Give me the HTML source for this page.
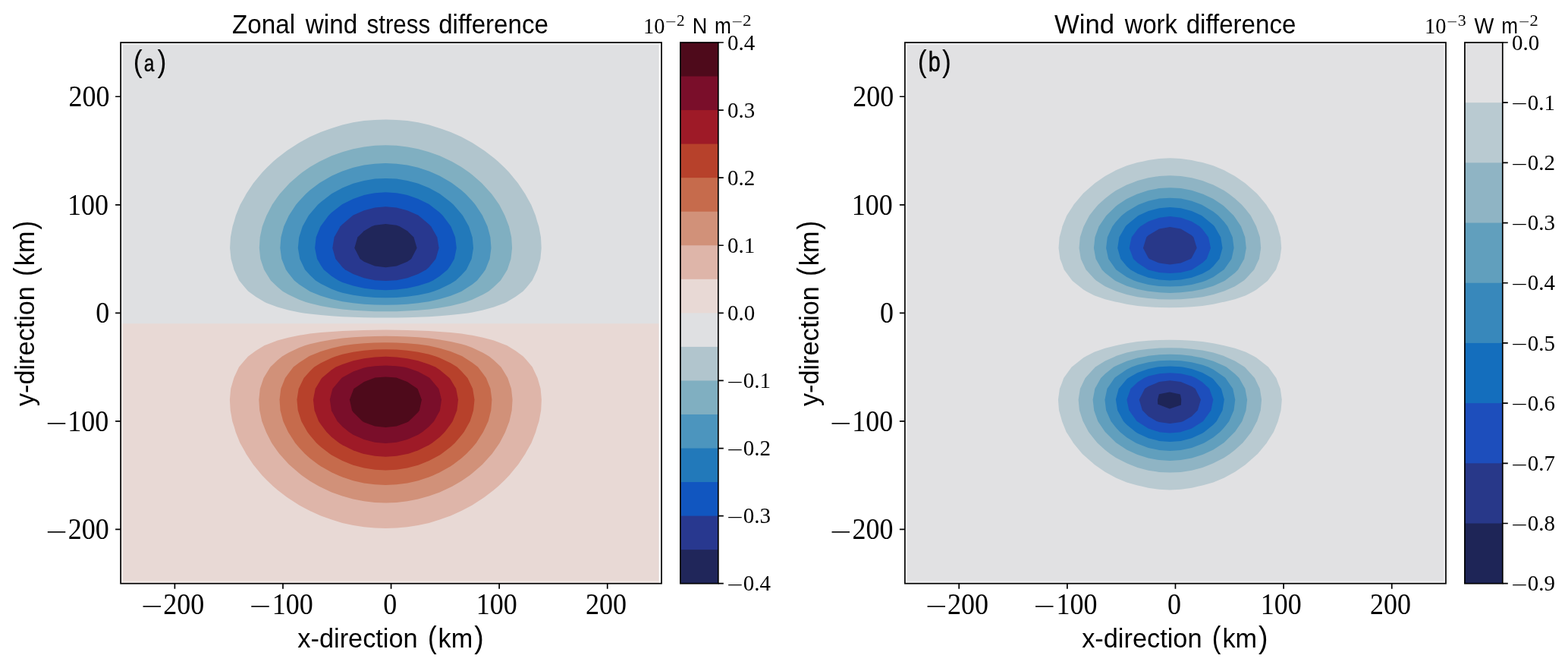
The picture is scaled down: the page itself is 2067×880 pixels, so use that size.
<!DOCTYPE html>
<html lang="en"><head><meta charset="utf-8"><title>Wind stress and wind work difference</title>
<style>html,body{margin:0;padding:0;background:#fff}svg{display:block}.s{font-family:"Liberation Sans",sans-serif}.r{font-family:"Liberation Serif",serif}text{fill:#000}</style></head><body>
<svg width="2067" height="880" viewBox="0 0 2067 880">
<rect width="2067" height="880" fill="#fff"/>
<defs><clipPath id="c1"><rect x="159.1" y="56.0" width="712.9" height="712.7"/></clipPath><clipPath id="c2"><rect x="1192.9" y="56.0" width="713.1" height="712.7"/></clipPath></defs>
<g clip-path="url(#c1)">
<rect x="159.1" y="56.0" width="712.9" height="712.7" fill="#dfe0e2"/>
<rect x="159.1" y="426.3" width="712.9" height="342.4" fill="#e8d9d5"/>
<path d="M408.6,413.5 L400.1,412.4 L394.4,411.4 L380.1,408.4 L365.8,404.5 L351.6,399.2 L349.0,398.1 L337.3,391.1 L327.3,383.8 L323.1,379.0 L315.2,369.6 L308.8,356.0 L308.5,355.3 L304.5,341.1 L303.1,326.8 L303.9,312.6 L306.6,298.3 L308.8,291.3 L310.8,284.1 L316.6,269.8 L323.1,258.3 L324.5,255.6 L334.0,241.3 L337.3,237.2 L345.8,227.0 L351.6,221.0 L360.2,212.8 L365.8,207.9 L378.2,198.5 L380.1,197.2 L394.4,187.9 L401.3,184.3 L408.6,180.3 L422.9,173.9 L434.2,170.0 L437.1,168.9 L451.4,164.5 L465.6,161.3 L479.9,159.1 L494.2,157.9 L508.4,157.5 L522.7,157.9 L536.9,159.1 L551.2,161.3 L565.5,164.5 L579.7,168.9 L582.7,170.0 L594.0,173.9 L608.2,180.3 L615.5,184.3 L622.5,187.9 L636.7,197.2 L638.6,198.5 L651.0,207.9 L656.6,212.8 L665.3,221.0 L671.1,227.0 L679.5,237.2 L682.8,241.3 L692.3,255.6 L693.8,258.3 L700.2,269.8 L706.0,284.1 L708.0,291.3 L710.3,298.3 L713.0,312.6 L713.7,326.8 L712.4,341.1 L708.3,355.3 L708.0,356.0 L701.6,369.6 L693.8,379.0 L689.5,383.8 L679.5,391.1 L667.9,398.1 L665.3,399.2 L651.0,404.5 L636.7,408.4 L622.5,411.4 L616.7,412.4 L608.2,413.5 L594.0,415.1 L579.7,416.3 L565.5,417.2 L551.2,417.8 L536.9,418.2 L522.7,418.4 L508.4,418.5 L494.2,418.4 L479.9,418.2 L465.6,417.8 L451.4,417.2 L437.1,416.3 L422.9,415.1 L408.6,413.5Z" fill="#b1c5cd"/>
<path d="M433.6,683.2 L437.1,684.5 L451.4,688.9 L465.6,692.1 L479.9,694.3 L494.2,695.5 L508.4,695.9 L522.7,695.5 L536.9,694.3 L551.2,692.1 L565.5,688.9 L579.7,684.5 L583.2,683.2 L594.0,679.5 L608.2,673.1 L615.9,668.9 L622.5,665.5 L636.7,656.3 L638.9,654.7 L651.0,645.6 L656.9,640.4 L665.3,632.5 L671.3,626.2 L679.5,616.3 L683.1,611.9 L692.5,597.7 L693.8,595.3 L700.5,583.4 L706.2,569.1 L708.0,562.6 L710.5,554.9 L713.2,540.6 L713.9,526.4 L712.6,512.1 L708.6,497.9 L708.0,496.8 L701.8,483.6 L693.8,474.0 L689.7,469.4 L679.5,461.9 L668.1,455.1 L665.3,453.9 L651.0,448.6 L636.7,444.7 L622.5,441.8 L617.1,440.9 L608.2,439.6 L594.0,438.1 L579.7,436.9 L565.5,436.0 L551.2,435.4 L536.9,434.9 L522.7,434.7 L508.4,434.6 L494.2,434.7 L479.9,434.9 L465.6,435.4 L451.4,436.0 L437.1,436.9 L422.9,438.1 L408.6,439.6 L399.7,440.9 L394.4,441.8 L380.1,444.7 L365.8,448.6 L351.6,453.9 L348.7,455.1 L337.3,461.9 L327.1,469.4 L323.1,474.0 L315.0,483.6 L308.8,496.8 L308.3,497.9 L304.2,512.1 L302.9,526.4 L303.7,540.6 L306.3,554.9 L308.8,562.6 L310.6,569.1 L316.4,583.4 L323.1,595.3 L324.3,597.7 L333.8,611.9 L337.3,616.3 L345.5,626.2 L351.6,632.5 L360.0,640.4 L365.8,645.6 L377.9,654.7 L380.1,656.3 L394.4,665.5 L400.9,668.9 L408.6,673.1 L422.9,679.5 L433.6,683.2Z" fill="#deb5a9"/>
<path d="M408.6,399.6 L403.2,398.1 L394.4,394.8 L380.1,388.1 L372.6,383.8 L365.8,378.1 L356.9,369.6 L351.6,361.0 L348.1,355.3 L343.3,341.1 L341.8,326.8 L342.7,312.6 L345.8,298.3 L351.3,284.1 L351.6,283.6 L358.7,269.8 L365.8,259.6 L368.8,255.6 L380.1,242.9 L381.7,241.3 L394.4,230.2 L398.5,227.0 L408.6,219.9 L421.3,212.8 L422.9,211.9 L437.1,205.2 L451.4,200.2 L457.5,198.5 L465.6,196.2 L479.9,193.4 L494.2,191.8 L508.4,191.2 L522.7,191.8 L536.9,193.4 L551.2,196.2 L559.3,198.5 L565.5,200.2 L579.7,205.2 L594.0,211.9 L595.6,212.8 L608.2,219.9 L618.3,227.0 L622.5,230.2 L635.1,241.3 L636.7,242.9 L648.1,255.6 L651.0,259.6 L658.2,269.8 L665.3,283.6 L665.5,284.1 L671.0,298.3 L674.2,312.6 L675.1,326.8 L673.5,341.1 L668.8,355.3 L665.3,361.0 L659.9,369.6 L651.0,378.1 L644.2,383.8 L636.7,388.1 L622.5,394.8 L613.7,398.1 L608.2,399.6 L594.0,403.0 L579.7,405.5 L565.5,407.4 L551.2,408.7 L536.9,409.6 L522.7,410.2 L508.4,410.3 L494.2,410.2 L479.9,409.6 L465.6,408.7 L451.4,407.4 L437.1,405.5 L422.9,403.0 L408.6,399.6Z" fill="#80afc1"/>
<path d="M455.9,654.7 L465.6,657.5 L479.9,660.3 L494.2,661.9 L508.4,662.4 L522.7,661.9 L536.9,660.3 L551.2,657.5 L560.9,654.7 L565.5,653.5 L579.7,648.5 L594.0,641.8 L596.5,640.4 L608.2,633.8 L619.1,626.2 L622.5,623.6 L635.8,611.9 L636.7,610.9 L648.7,597.7 L651.0,594.4 L658.7,583.4 L665.3,570.7 L666.1,569.1 L671.5,554.9 L674.7,540.6 L675.6,526.4 L674.0,512.1 L669.3,497.9 L665.3,491.3 L660.5,483.6 L651.0,474.6 L644.8,469.4 L636.7,464.7 L622.5,458.1 L614.5,455.1 L608.2,453.3 L594.0,450.0 L579.7,447.5 L565.5,445.6 L551.2,444.3 L536.9,443.4 L522.7,442.9 L508.4,442.7 L494.2,442.9 L479.9,443.4 L465.6,444.3 L451.4,445.6 L437.1,447.5 L422.9,450.0 L408.6,453.3 L402.4,455.1 L394.4,458.1 L380.1,464.7 L372.0,469.4 L365.8,474.6 L356.4,483.6 L351.6,491.3 L347.5,497.9 L342.8,512.1 L341.3,526.4 L342.2,540.6 L345.3,554.9 L350.8,569.1 L351.6,570.7 L358.1,583.4 L365.8,594.4 L368.2,597.7 L380.1,610.9 L381.1,611.9 L394.4,623.6 L397.8,626.2 L408.6,633.8 L420.3,640.4 L422.9,641.8 L437.1,648.5 L451.4,653.5 L455.9,654.7Z" fill="#d19179"/>
<path d="M465.6,399.3 L456.9,398.1 L451.4,397.2 L437.1,394.0 L422.9,389.7 L408.6,384.0 L408.3,383.8 L394.4,374.7 L387.9,369.6 L380.1,359.7 L376.9,355.3 L371.2,341.1 L369.3,326.8 L370.4,312.6 L374.2,298.3 L380.1,285.5 L380.8,284.1 L390.1,269.8 L394.4,264.8 L403.1,255.6 L408.6,250.6 L420.9,241.3 L422.9,240.0 L437.1,231.7 L447.8,227.0 L451.4,225.5 L465.6,220.7 L479.9,217.5 L494.2,215.7 L508.4,215.1 L522.7,215.7 L536.9,217.5 L551.2,220.7 L565.5,225.5 L569.0,227.0 L579.7,231.7 L594.0,240.0 L595.9,241.3 L608.2,250.6 L613.8,255.6 L622.5,264.8 L626.7,269.8 L636.1,284.1 L636.7,285.5 L642.6,298.3 L646.4,312.6 L647.5,326.8 L645.6,341.1 L639.9,355.3 L636.7,359.7 L629.0,369.6 L622.5,374.7 L608.5,383.8 L608.2,384.0 L594.0,389.7 L579.7,394.0 L565.5,397.2 L559.9,398.1 L551.2,399.3 L536.9,400.7 L522.7,401.4 L508.4,401.7 L494.2,401.4 L479.9,400.7 L465.6,399.3Z" fill="#4c95be"/>
<path d="M445.9,626.2 L451.4,628.6 L465.6,633.3 L479.9,636.4 L494.2,638.3 L508.4,638.9 L522.7,638.3 L536.9,636.4 L551.2,633.3 L565.5,628.6 L571.0,626.2 L579.7,622.3 L594.0,614.2 L597.3,611.9 L608.2,603.7 L614.9,597.7 L622.5,589.7 L627.8,583.4 L636.7,569.6 L637.0,569.1 L643.6,554.9 L647.3,540.6 L648.4,526.4 L646.5,512.1 L640.9,497.9 L636.7,492.2 L630.0,483.6 L622.5,477.7 L609.7,469.4 L608.2,468.7 L594.0,463.0 L579.7,458.8 L565.5,455.6 L562.4,455.1 L551.2,453.6 L536.9,452.2 L522.7,451.4 L508.4,451.2 L494.2,451.4 L479.9,452.2 L465.6,453.6 L454.5,455.1 L451.4,455.6 L437.1,458.8 L422.9,463.0 L408.6,468.7 L407.1,469.4 L394.4,477.7 L386.8,483.6 L380.1,492.2 L375.9,497.9 L370.3,512.1 L368.5,526.4 L369.5,540.6 L373.3,554.9 L379.8,569.1 L380.1,569.6 L389.1,583.4 L394.4,589.7 L401.9,597.7 L408.6,603.7 L419.5,611.9 L422.9,614.2 L437.1,622.3 L445.9,626.2Z" fill="#c66b4c"/>
<path d="M451.4,385.7 L445.0,383.8 L437.1,380.8 L422.9,373.8 L416.0,369.6 L408.6,362.5 L402.0,355.3 L395.2,341.1 L394.4,336.1 L392.8,326.8 L394.2,312.6 L394.4,312.0 L398.8,298.3 L406.8,284.1 L408.6,281.7 L418.9,269.8 L422.9,266.2 L436.8,255.6 L437.1,255.3 L451.4,247.5 L465.6,241.8 L467.5,241.3 L479.9,237.9 L494.2,235.6 L508.4,234.9 L522.7,235.6 L536.9,237.9 L549.4,241.3 L551.2,241.8 L565.5,247.5 L579.7,255.3 L580.0,255.6 L594.0,266.2 L597.9,269.8 L608.2,281.7 L610.0,284.1 L618.1,298.3 L622.5,312.0 L622.7,312.6 L624.0,326.8 L622.5,336.1 L621.7,341.1 L614.8,355.3 L608.2,362.5 L600.8,369.6 L594.0,373.8 L579.7,380.8 L571.9,383.8 L565.5,385.7 L551.2,388.7 L536.9,390.8 L522.7,392.0 L508.4,392.3 L494.2,392.0 L479.9,390.8 L465.6,388.7 L451.4,385.7Z" fill="#2279ba"/>
<path d="M463.6,611.9 L465.6,612.7 L479.9,616.6 L494.2,618.8 L508.4,619.5 L522.7,618.8 L536.9,616.6 L551.2,612.7 L553.2,611.9 L565.5,607.1 L579.7,599.4 L582.2,597.7 L594.0,588.7 L599.7,583.4 L608.2,573.6 L611.7,569.1 L619.6,554.9 L622.5,545.9 L624.1,540.6 L625.5,526.4 L623.1,512.1 L622.5,510.7 L616.4,497.9 L608.2,489.0 L602.6,483.6 L594.0,478.3 L579.7,471.4 L574.4,469.4 L565.5,466.8 L551.2,463.8 L536.9,461.8 L522.7,460.6 L508.4,460.2 L494.2,460.6 L479.9,461.8 L465.6,463.8 L451.4,466.8 L442.4,469.4 L437.1,471.4 L422.9,478.3 L414.2,483.6 L408.6,489.0 L400.5,497.9 L394.4,510.7 L393.7,512.1 L391.4,526.4 L392.7,540.6 L394.4,545.9 L397.3,554.9 L405.2,569.1 L408.6,573.6 L417.1,583.4 L422.9,588.7 L434.6,597.7 L437.1,599.4 L451.4,607.1 L463.6,611.9Z" fill="#b7412b"/>
<path d="M451.4,371.9 L446.1,369.6 L437.1,363.8 L426.8,355.3 L422.9,349.4 L418.0,341.1 L415.1,326.8 L416.7,312.6 L422.5,298.3 L422.9,297.7 L433.1,284.1 L437.1,280.1 L450.3,269.8 L451.4,269.1 L465.6,261.9 L479.9,257.0 L487.2,255.6 L494.2,254.2 L508.4,253.3 L522.7,254.2 L529.6,255.6 L536.9,257.0 L551.2,261.9 L565.5,269.1 L566.5,269.8 L579.7,280.1 L583.7,284.1 L594.0,297.7 L594.4,298.3 L600.1,312.6 L601.8,326.8 L598.9,341.1 L594.0,349.4 L590.0,355.3 L579.7,363.8 L570.8,369.6 L565.5,371.9 L551.2,376.6 L536.9,379.7 L522.7,381.6 L508.4,382.2 L494.2,381.6 L479.9,379.7 L465.6,376.6 L451.4,371.9Z" fill="#1156c0"/>
<path d="M478.5,597.7 L479.9,598.1 L494.2,600.8 L508.4,601.7 L522.7,600.8 L536.9,598.1 L538.4,597.7 L551.2,593.3 L565.5,586.2 L569.8,583.4 L579.7,575.7 L586.4,569.1 L594.0,559.1 L596.7,554.9 L602.4,540.6 L604.0,526.4 L601.2,512.1 L594.0,499.9 L592.6,497.9 L579.7,487.3 L574.0,483.6 L565.5,479.9 L551.2,475.3 L536.9,472.2 L522.7,470.4 L508.4,469.8 L494.2,470.4 L479.9,472.2 L465.6,475.3 L451.4,479.9 L442.8,483.6 L437.1,487.3 L424.2,497.9 L422.9,499.9 L415.7,512.1 L412.9,526.4 L414.5,540.6 L420.1,554.9 L422.9,559.1 L430.4,569.1 L437.1,575.7 L447.0,583.4 L451.4,586.2 L465.6,593.3 L478.5,597.7Z" fill="#9e1a27"/>
<path d="M508.4,370.0 L499.8,369.6 L494.2,369.2 L479.9,366.2 L465.6,361.0 L455.0,355.3 L451.4,352.0 L442.3,341.1 L438.3,326.8 L440.6,312.6 L448.6,298.3 L451.4,295.4 L464.9,284.1 L465.6,283.6 L479.9,277.2 L494.2,273.5 L508.4,272.2 L522.7,273.5 L536.9,277.2 L551.2,283.6 L551.9,284.1 L565.5,295.4 L568.2,298.3 L576.3,312.6 L578.6,326.8 L574.5,341.1 L565.5,352.0 L561.8,355.3 L551.2,361.0 L536.9,366.2 L522.7,369.2 L517.0,369.6 L508.4,370.0Z" fill="#28388f"/>
<path d="M502.3,583.4 L508.4,583.9 L514.5,583.4 L522.7,582.7 L536.9,579.1 L551.2,572.8 L557.0,569.1 L565.5,562.1 L572.1,554.9 L579.7,541.2 L580.0,540.6 L582.0,526.4 L579.7,517.1 L578.3,512.1 L566.5,497.9 L565.5,497.2 L551.2,489.6 L536.9,484.6 L532.5,483.6 L522.7,482.2 L508.4,481.5 L494.2,482.2 L484.4,483.6 L479.9,484.6 L465.6,489.6 L451.4,497.2 L450.3,497.9 L438.5,512.1 L437.1,517.1 L434.8,526.4 L436.9,540.6 L437.1,541.2 L444.7,554.9 L451.4,562.1 L459.9,569.1 L465.6,572.8 L479.9,579.1 L494.2,582.7 L502.3,583.4Z" fill="#7a0e2a"/>
<path d="M479.9,344.7 L474.6,341.1 L467.3,326.8 L471.4,312.6 L479.9,304.2 L490.0,298.3 L494.2,296.8 L508.4,295.0 L522.7,296.8 L526.8,298.3 L536.9,304.2 L545.4,312.6 L549.6,326.8 L542.2,341.1 L536.9,344.7 L522.7,350.4 L508.4,352.3 L494.2,350.4 L479.9,344.7Z" fill="#20265a"/>
<path d="M477.8,554.9 L479.9,556.2 L494.2,561.4 L508.4,563.1 L522.7,561.4 L536.9,556.2 L539.0,554.9 L551.2,542.9 L552.9,540.6 L555.9,526.4 L551.2,513.9 L550.3,512.1 L536.9,503.1 L523.8,497.9 L522.7,497.6 L508.4,496.5 L494.2,497.6 L493.1,497.9 L479.9,503.1 L466.5,512.1 L465.6,513.9 L460.9,526.4 L464.0,540.6 L465.6,542.9 L477.8,554.9Z" fill="#4e0a1b"/>
</g>
<g clip-path="url(#c2)">
<rect x="1192.9" y="56.0" width="713.1" height="712.7" fill="#e1e1e3"/>
<path d="M1513.8,642.7 L1504.4,640.4 L1499.6,639.5 L1485.3,635.5 L1471.0,629.4 L1465.1,626.2 L1456.8,621.8 L1442.7,611.9 L1442.5,611.7 L1428.2,599.3 L1426.6,597.7 L1414.8,583.4 L1414.0,582.1 L1405.6,569.1 L1400.0,554.9 L1399.7,553.7 L1396.0,540.6 L1394.9,526.4 L1396.9,512.1 L1399.7,505.1 L1402.2,497.9 L1412.7,483.6 L1414.0,482.5 L1428.2,471.3 L1431.3,469.4 L1442.5,463.7 L1456.8,458.7 L1471.0,455.3 L1472.0,455.1 L1485.3,452.2 L1499.6,450.0 L1513.8,448.7 L1528.1,447.9 L1542.3,447.7 L1556.6,447.9 L1570.9,448.7 L1585.1,450.0 L1599.4,452.2 L1612.7,455.1 L1613.7,455.3 L1627.9,458.7 L1642.2,463.7 L1653.4,469.4 L1656.4,471.3 L1670.7,482.5 L1672.0,483.6 L1682.4,497.9 L1685.0,505.1 L1687.8,512.1 L1689.8,526.4 L1688.6,540.6 L1685.0,553.7 L1684.7,554.9 L1679.0,569.1 L1670.7,582.1 L1669.9,583.4 L1658.1,597.7 L1656.4,599.3 L1642.2,611.7 L1642.0,611.9 L1627.9,621.8 L1619.6,626.2 L1613.7,629.4 L1599.4,635.5 L1585.1,639.5 L1580.3,640.4 L1570.9,642.7 L1556.6,644.7 L1542.3,645.4 L1528.1,644.7 L1513.8,642.7Z M1485.3,400.8 L1473.0,398.1 L1471.0,397.7 L1456.8,394.3 L1442.5,389.2 L1431.9,383.8 L1428.2,381.5 L1414.0,370.2 L1413.3,369.6 L1402.7,355.3 L1399.7,346.7 L1397.4,341.1 L1395.5,326.8 L1396.6,312.6 L1399.7,301.4 L1400.4,298.3 L1406.2,284.1 L1414.0,271.9 L1415.3,269.8 L1427.3,255.6 L1428.2,254.6 L1442.5,242.0 L1443.4,241.3 L1456.8,231.9 L1466.1,227.0 L1471.0,224.3 L1485.3,218.2 L1499.6,214.1 L1506.4,212.8 L1513.8,211.0 L1528.1,208.9 L1542.3,208.3 L1556.6,208.9 L1570.9,211.0 L1578.3,212.8 L1585.1,214.1 L1599.4,218.2 L1613.7,224.3 L1618.6,227.0 L1627.9,231.9 L1641.3,241.3 L1642.2,242.0 L1656.4,254.6 L1657.4,255.6 L1669.4,269.8 L1670.7,271.9 L1678.5,284.1 L1684.2,298.3 L1685.0,301.4 L1688.1,312.6 L1689.2,326.8 L1687.2,341.1 L1685.0,346.7 L1682.0,355.3 L1671.4,369.6 L1670.7,370.2 L1656.4,381.5 L1652.7,383.8 L1642.2,389.2 L1627.9,394.3 L1613.7,397.7 L1611.6,398.1 L1599.4,400.8 L1585.1,403.0 L1570.9,404.3 L1556.6,405.1 L1542.3,405.3 L1528.1,405.1 L1513.8,404.3 L1499.6,403.0 L1485.3,400.8Z" fill="#b9cad1"/>
<path d="M1499.6,616.0 L1489.5,611.9 L1485.3,610.3 L1471.0,603.0 L1463.2,597.7 L1456.8,592.8 L1446.6,583.4 L1442.5,578.6 L1435.0,569.1 L1428.2,556.0 L1427.6,554.9 L1422.9,540.6 L1421.6,526.4 L1423.9,512.1 L1428.2,503.1 L1430.6,497.9 L1442.5,485.0 L1443.9,483.6 L1456.8,475.4 L1470.4,469.4 L1471.0,469.1 L1485.3,464.6 L1499.6,461.6 L1513.8,459.7 L1528.1,458.6 L1542.3,458.3 L1556.6,458.6 L1570.9,459.7 L1585.1,461.6 L1599.4,464.6 L1613.7,469.1 L1614.3,469.4 L1627.9,475.4 L1640.8,483.6 L1642.2,485.0 L1654.0,497.9 L1656.4,503.1 L1660.8,512.1 L1663.1,526.4 L1661.8,540.6 L1657.1,554.9 L1656.4,556.0 L1649.6,569.1 L1642.2,578.6 L1638.1,583.4 L1627.9,592.8 L1621.5,597.7 L1613.7,603.0 L1599.4,610.3 L1595.2,611.9 L1585.1,616.0 L1570.9,619.8 L1556.6,621.9 L1542.3,622.6 L1528.1,621.9 L1513.8,619.8 L1499.6,616.0Z M1485.3,388.1 L1471.8,383.8 L1471.0,383.6 L1456.8,377.2 L1444.9,369.6 L1442.5,367.3 L1431.5,355.3 L1428.2,348.2 L1424.8,341.1 L1422.5,326.8 L1423.8,312.6 L1428.2,299.3 L1428.6,298.3 L1436.0,284.1 L1442.5,275.8 L1447.6,269.8 L1456.8,261.4 L1464.5,255.6 L1471.0,251.1 L1485.3,243.6 L1491.5,241.3 L1499.6,238.1 L1513.8,234.2 L1528.1,232.0 L1542.3,231.3 L1556.6,232.0 L1570.9,234.2 L1585.1,238.1 L1593.2,241.3 L1599.4,243.6 L1613.7,251.1 L1620.2,255.6 L1627.9,261.4 L1637.0,269.8 L1642.2,275.8 L1648.7,284.1 L1656.1,298.3 L1656.4,299.3 L1660.9,312.6 L1662.2,326.8 L1659.9,341.1 L1656.4,348.2 L1653.2,355.3 L1642.2,367.3 L1639.8,369.6 L1627.9,377.2 L1613.7,383.6 L1612.8,383.8 L1599.4,388.1 L1585.1,391.2 L1570.9,393.1 L1556.6,394.2 L1542.3,394.6 L1528.1,394.2 L1513.8,393.1 L1499.6,391.2 L1485.3,388.1Z" fill="#8fb4c4"/>
<path d="M1499.6,598.9 L1496.7,597.7 L1485.3,592.4 L1471.7,583.4 L1471.0,582.9 L1456.9,569.1 L1456.8,568.9 L1447.3,554.9 L1442.5,541.5 L1442.2,540.6 L1440.6,526.4 L1442.5,516.6 L1443.3,512.1 L1451.2,497.9 L1456.8,492.5 L1468.0,483.6 L1471.0,482.0 L1485.3,475.7 L1499.6,471.5 L1510.8,469.4 L1513.8,468.8 L1528.1,467.2 L1542.3,466.7 L1556.6,467.2 L1570.9,468.8 L1573.9,469.4 L1585.1,471.5 L1599.4,475.7 L1613.7,482.0 L1616.7,483.6 L1627.9,492.5 L1633.5,497.9 L1641.4,512.1 L1642.2,516.6 L1644.1,526.4 L1642.5,540.6 L1642.2,541.5 L1637.4,554.9 L1627.9,568.9 L1627.8,569.1 L1613.7,582.9 L1613.0,583.4 L1599.4,592.4 L1588.0,597.7 L1585.1,598.9 L1570.9,603.6 L1556.6,606.1 L1542.3,606.9 L1528.1,606.1 L1513.8,603.6 L1499.6,598.9Z M1528.1,385.3 L1514.7,383.8 L1513.8,383.7 L1499.6,381.0 L1485.3,376.7 L1471.0,370.3 L1469.7,369.6 L1456.8,359.4 L1452.6,355.3 L1444.5,341.1 L1442.5,329.9 L1441.9,326.8 L1442.5,321.5 L1443.4,312.6 L1448.6,298.3 L1456.8,286.2 L1458.4,284.1 L1471.0,271.8 L1473.5,269.8 L1485.3,262.0 L1499.3,255.6 L1499.6,255.5 L1513.8,250.7 L1528.1,248.1 L1542.3,247.3 L1556.6,248.1 L1570.9,250.7 L1585.1,255.5 L1585.4,255.6 L1599.4,262.0 L1611.1,269.8 L1613.7,271.8 L1626.3,284.1 L1627.9,286.2 L1636.0,298.3 L1641.3,312.6 L1642.2,321.5 L1642.8,326.8 L1642.2,329.9 L1640.2,341.1 L1632.1,355.3 L1627.9,359.4 L1615.0,369.6 L1613.7,370.3 L1599.4,376.7 L1585.1,381.0 L1570.9,383.7 L1570.0,383.8 L1556.6,385.3 L1542.3,385.9 L1528.1,385.3Z" fill="#619fbd"/>
<path d="M1499.6,584.6 L1497.3,583.4 L1485.3,576.3 L1476.4,569.1 L1471.0,563.3 L1464.5,554.9 L1458.1,540.6 L1456.8,529.4 L1456.4,526.4 L1456.8,524.7 L1459.5,512.1 L1469.2,497.9 L1471.0,496.4 L1485.3,486.8 L1491.8,483.6 L1499.6,480.8 L1513.8,477.3 L1528.1,475.3 L1542.3,474.7 L1556.6,475.3 L1570.9,477.3 L1585.1,480.8 L1592.9,483.6 L1599.4,486.8 L1613.7,496.4 L1615.5,497.9 L1625.2,512.1 L1627.9,524.7 L1628.3,526.4 L1627.9,529.4 L1626.5,540.6 L1620.2,554.9 L1613.7,563.3 L1608.3,569.1 L1599.4,576.3 L1587.4,583.4 L1585.1,584.6 L1570.9,590.0 L1556.6,592.9 L1542.3,593.9 L1528.1,592.9 L1513.8,590.0 L1499.6,584.6Z M1499.6,371.3 L1494.7,369.6 L1485.3,365.0 L1471.2,355.3 L1471.0,355.1 L1461.2,341.1 L1458.1,326.8 L1459.8,312.6 L1466.4,298.3 L1471.0,292.3 L1478.6,284.1 L1485.3,278.7 L1499.6,270.2 L1500.5,269.8 L1513.8,264.7 L1528.1,261.6 L1542.3,260.7 L1556.6,261.6 L1570.9,264.7 L1584.2,269.8 L1585.1,270.2 L1599.4,278.7 L1606.0,284.1 L1613.7,292.3 L1618.3,298.3 L1624.8,312.6 L1626.6,326.8 L1623.5,341.1 L1613.7,355.1 L1613.4,355.3 L1599.4,365.0 L1590.0,369.6 L1585.1,371.3 L1570.9,375.0 L1556.6,377.0 L1542.3,377.6 L1528.1,377.0 L1513.8,375.0 L1499.6,371.3Z" fill="#3888bb"/>
<path d="M1499.6,570.8 L1497.0,569.1 L1485.3,559.5 L1481.0,554.9 L1473.1,540.6 L1471.0,527.3 L1470.9,526.4 L1471.0,525.8 L1474.7,512.1 L1485.3,499.6 L1487.1,497.9 L1499.6,491.1 L1513.8,486.0 L1525.8,483.6 L1528.1,483.3 L1542.3,482.5 L1556.6,483.3 L1558.9,483.6 L1570.9,486.0 L1585.1,491.1 L1597.6,497.9 L1599.4,499.6 L1609.9,512.1 L1613.7,525.8 L1613.8,526.4 L1613.7,527.3 L1611.6,540.6 L1603.7,554.9 L1599.4,559.5 L1587.7,569.1 L1585.1,570.8 L1570.9,577.3 L1556.6,580.9 L1542.3,582.1 L1528.1,580.9 L1513.8,577.3 L1499.6,570.8Z M1499.6,360.4 L1490.2,355.3 L1485.3,350.7 L1477.2,341.1 L1473.2,326.8 L1475.4,312.6 L1483.7,298.3 L1485.3,296.6 L1499.6,284.7 L1500.6,284.1 L1513.8,277.9 L1528.1,274.2 L1542.3,273.0 L1556.6,274.2 L1570.9,277.9 L1584.1,284.1 L1585.1,284.7 L1599.4,296.6 L1601.0,298.3 L1609.2,312.6 L1611.5,326.8 L1607.5,341.1 L1599.4,350.7 L1594.5,355.3 L1585.1,360.4 L1570.9,365.7 L1556.6,368.6 L1542.3,369.5 L1528.1,368.6 L1513.8,365.7 L1499.6,360.4Z" fill="#146ebd"/>
<path d="M1528.1,569.2 L1527.9,569.1 L1513.8,564.4 L1499.6,555.6 L1498.7,554.9 L1488.3,540.6 L1485.4,526.4 L1490.5,512.1 L1499.6,503.6 L1508.2,497.9 L1513.8,495.6 L1528.1,492.3 L1542.3,491.2 L1556.6,492.3 L1570.9,495.6 L1576.4,497.9 L1585.1,503.6 L1594.2,512.1 L1599.3,526.4 L1596.4,540.6 L1586.0,554.9 L1585.1,555.6 L1570.9,564.4 L1556.8,569.1 L1556.6,569.2 L1542.3,570.6 L1528.1,569.2Z M1513.8,355.5 L1513.3,355.3 L1499.6,346.3 L1494.0,341.1 L1488.7,326.8 L1491.7,312.6 L1499.6,302.0 L1503.3,298.3 L1513.8,291.8 L1528.1,286.8 L1542.3,285.1 L1556.6,286.8 L1570.9,291.8 L1581.4,298.3 L1585.1,302.0 L1593.0,312.6 L1596.0,326.8 L1590.7,341.1 L1585.1,346.3 L1571.4,355.3 L1570.9,355.5 L1556.6,359.0 L1542.3,360.1 L1528.1,359.0 L1513.8,355.5Z" fill="#1d4ebc"/>
<path d="M1528.1,556.1 L1524.9,554.9 L1513.8,548.5 L1505.9,540.6 L1501.7,526.4 L1509.1,512.1 L1513.8,508.9 L1528.1,503.1 L1542.3,501.2 L1556.6,503.1 L1570.9,508.9 L1575.6,512.1 L1583.0,526.4 L1578.8,540.6 L1570.9,548.5 L1559.7,554.9 L1556.6,556.1 L1542.3,557.9 L1528.1,556.1Z M1528.1,346.6 L1515.0,341.1 L1513.8,339.7 L1506.9,326.8 L1511.3,312.6 L1513.8,310.1 L1528.1,301.6 L1542.3,298.9 L1556.6,301.6 L1570.9,310.1 L1573.4,312.6 L1577.7,326.8 L1570.9,339.7 L1569.7,341.1 L1556.6,346.6 L1542.3,348.5 L1528.1,346.6Z" fill="#283889"/>
<path d="M1527.9,519.2 L1541.9,516.4 L1555.9,519.5 L1557.2,526.4 L1556.9,533.5 L1541.9,538.6 L1526.2,532.5 L1526.0,526.4Z" fill="#1e2557"/>
</g>
<rect x="161.1" y="58.0" width="708.9" height="708.7" fill="none" stroke="#fff" stroke-opacity="0.42" stroke-width="2.4"/>
<rect x="868.7" y="56.0" width="3.3" height="712.7" fill="#fff"/>
<rect x="1194.9" y="58.0" width="709.1" height="708.7" fill="none" stroke="#fff" stroke-opacity="0.42" stroke-width="2.4"/>
<rect x="1192.9" y="56.0" width="2.3" height="712.7" fill="#fff"/>
<rect x="896.9" y="56.00" width="49.9" height="712.70" fill="#4e0a1b"/>
<rect x="896.9" y="100.54" width="49.9" height="668.16" fill="#7a0e2a"/>
<rect x="896.9" y="145.09" width="49.9" height="623.61" fill="#9e1a27"/>
<rect x="896.9" y="189.63" width="49.9" height="579.07" fill="#b7412b"/>
<rect x="896.9" y="234.17" width="49.9" height="534.53" fill="#c66b4c"/>
<rect x="896.9" y="278.72" width="49.9" height="489.98" fill="#d19179"/>
<rect x="896.9" y="323.26" width="49.9" height="445.44" fill="#deb5a9"/>
<rect x="896.9" y="367.81" width="49.9" height="400.89" fill="#e8d9d5"/>
<rect x="896.9" y="412.35" width="49.9" height="356.35" fill="#dfe0e2"/>
<rect x="896.9" y="456.89" width="49.9" height="311.81" fill="#b1c5cd"/>
<rect x="896.9" y="501.44" width="49.9" height="267.26" fill="#80afc1"/>
<rect x="896.9" y="545.98" width="49.9" height="222.72" fill="#4c95be"/>
<rect x="896.9" y="590.53" width="49.9" height="178.17" fill="#2279ba"/>
<rect x="896.9" y="635.07" width="49.9" height="133.63" fill="#1156c0"/>
<rect x="896.9" y="679.61" width="49.9" height="89.09" fill="#28388f"/>
<rect x="896.9" y="724.16" width="49.9" height="44.54" fill="#20265a"/>
<rect x="896.9" y="56.0" width="49.9" height="712.7" fill="none" stroke="#000" stroke-width="1.7"/>
<rect x="1930.9" y="56.00" width="49.9" height="712.70" fill="#e1e1e3"/>
<rect x="1930.9" y="135.19" width="49.9" height="633.51" fill="#b9cad1"/>
<rect x="1930.9" y="214.38" width="49.9" height="554.32" fill="#8fb4c4"/>
<rect x="1930.9" y="293.57" width="49.9" height="475.13" fill="#619fbd"/>
<rect x="1930.9" y="372.76" width="49.9" height="395.94" fill="#3888bb"/>
<rect x="1930.9" y="451.94" width="49.9" height="316.76" fill="#146ebd"/>
<rect x="1930.9" y="531.13" width="49.9" height="237.57" fill="#1d4ebc"/>
<rect x="1930.9" y="610.32" width="49.9" height="158.38" fill="#283889"/>
<rect x="1930.9" y="689.51" width="49.9" height="79.19" fill="#1e2557"/>
<rect x="1930.9" y="56.0" width="49.9" height="712.7" fill="none" stroke="#000" stroke-width="1.7"/>
<rect x="159.1" y="56.0" width="712.9" height="712.7" fill="none" stroke="#000" stroke-width="1.7"/>
<path d="M230.39,768.70v7.0M159.10,697.43h-7.0M372.97,768.70v7.0M159.10,554.89h-7.0M515.55,768.70v7.0M159.10,412.35h-7.0M658.13,768.70v7.0M159.10,269.81h-7.0M800.71,768.70v7.0M159.10,127.27h-7.0" stroke="#000" stroke-width="1.7" fill="none"/>
<rect x="1192.9" y="56.0" width="713.1" height="712.7" fill="none" stroke="#000" stroke-width="1.7"/>
<path d="M1264.22,768.70v7.0M1192.90,697.43h-7.0M1406.85,768.70v7.0M1192.90,554.89h-7.0M1549.47,768.70v7.0M1192.90,412.35h-7.0M1692.11,768.70v7.0M1192.90,269.81h-7.0M1834.74,768.70v7.0M1192.90,127.27h-7.0" stroke="#000" stroke-width="1.7" fill="none"/>
<path d="M946.80,768.70h7.0M946.80,679.61h7.0M946.80,590.53h7.0M946.80,501.44h7.0M946.80,412.35h7.0M946.80,323.26h7.0M946.80,234.17h7.0M946.80,145.09h7.0M946.80,56.00h7.0" stroke="#000" stroke-width="1.7" fill="none"/>
<path d="M1980.80,768.70h7.0M1980.80,689.51h7.0M1980.80,610.32h7.0M1980.80,531.13h7.0M1980.80,451.94h7.0M1980.80,372.76h7.0M1980.80,293.57h7.0M1980.80,214.38h7.0M1980.80,135.19h7.0M1980.80,56.00h7.0" stroke="#000" stroke-width="1.7" fill="none"/>
<g><text class="r" font-size="39.40" transform="translate(60.57,711.58) scale(1.2827,0.8500)">−</text><text class="r" font-size="39.40" transform="translate(89.63,710.33) scale(0.9140,1.0000)">200</text></g>
<g><text class="r" font-size="39.40" transform="translate(60.57,569.04) scale(1.2827,0.8500)">−</text><text class="r" font-size="39.40" transform="translate(89.33,567.79) scale(0.9140,1.0000)">100</text></g>
<g><text class="r" font-size="39.40" transform="translate(126.24,425.25) scale(0.9140,1.0000)">0</text></g>
<g><text class="r" font-size="39.40" transform="translate(88.93,282.71) scale(0.9140,1.0000)">100</text></g>
<g><text class="r" font-size="39.40" transform="translate(90.53,140.17) scale(0.9140,1.0000)">200</text></g>
<g><text class="r" font-size="39.40" transform="translate(186.36,809.75) scale(1.2827,0.8500)">−</text><text class="r" font-size="39.40" transform="translate(215.17,808.50) scale(0.9140,1.0000)">200</text></g>
<g><text class="r" font-size="39.40" transform="translate(328.94,809.75) scale(1.2827,0.8500)">−</text><text class="r" font-size="39.40" transform="translate(358.72,808.50) scale(0.9140,1.0000)">100</text></g>
<g><text class="r" font-size="39.40" transform="translate(505.15,808.50) scale(0.9140,1.0000)">0</text></g>
<g><text class="r" font-size="39.40" transform="translate(627.68,808.50) scale(0.9140,1.0000)">100</text></g>
<g><text class="r" font-size="39.40" transform="translate(772.09,808.50) scale(0.9140,1.0000)">200</text></g>
<g><text class="r" font-size="39.40" transform="translate(1094.37,711.58) scale(1.2827,0.8500)">−</text><text class="r" font-size="39.40" transform="translate(1123.43,710.33) scale(0.9140,1.0000)">200</text></g>
<g><text class="r" font-size="39.40" transform="translate(1094.37,569.04) scale(1.2827,0.8500)">−</text><text class="r" font-size="39.40" transform="translate(1123.13,567.79) scale(0.9140,1.0000)">100</text></g>
<g><text class="r" font-size="39.40" transform="translate(1160.04,425.25) scale(0.9140,1.0000)">0</text></g>
<g><text class="r" font-size="39.40" transform="translate(1122.73,282.71) scale(0.9140,1.0000)">100</text></g>
<g><text class="r" font-size="39.40" transform="translate(1124.33,140.17) scale(0.9140,1.0000)">200</text></g>
<g><text class="r" font-size="39.40" transform="translate(1220.19,809.75) scale(1.2827,0.8500)">−</text><text class="r" font-size="39.40" transform="translate(1248.99,808.50) scale(0.9140,1.0000)">200</text></g>
<g><text class="r" font-size="39.40" transform="translate(1362.82,809.75) scale(1.2827,0.8500)">−</text><text class="r" font-size="39.40" transform="translate(1392.59,808.50) scale(0.9140,1.0000)">100</text></g>
<g><text class="r" font-size="39.40" transform="translate(1539.07,808.50) scale(0.9140,1.0000)">0</text></g>
<g><text class="r" font-size="39.40" transform="translate(1661.65,808.50) scale(0.9140,1.0000)">100</text></g>
<g><text class="r" font-size="39.40" transform="translate(1806.11,808.50) scale(0.9140,1.0000)">200</text></g>
<g><text class="r" font-size="29.70" transform="translate(958.31,778.91) scale(1.2744,0.8500)">−</text><text class="r" font-size="29.70" transform="translate(979.81,778.40) scale(0.9750,1.0000)">0.4</text></g>
<g><text class="r" font-size="29.70" transform="translate(958.31,689.82) scale(1.2744,0.8500)">−</text><text class="r" font-size="29.70" transform="translate(979.81,689.31) scale(0.9750,1.0000)">0.3</text></g>
<g><text class="r" font-size="29.70" transform="translate(958.31,600.73) scale(1.2744,0.8500)">−</text><text class="r" font-size="29.70" transform="translate(979.81,600.23) scale(0.9750,1.0000)">0.2</text></g>
<g><text class="r" font-size="29.70" transform="translate(958.31,511.64) scale(1.2744,0.8500)">−</text><text class="r" font-size="29.70" transform="translate(979.81,511.14) scale(0.9750,1.0000)">0.1</text></g>
<g><text class="r" font-size="29.70" transform="translate(958.91,422.05) scale(0.9750,1.0000)">0.0</text></g>
<g><text class="r" font-size="29.70" transform="translate(958.91,332.96) scale(0.9750,1.0000)">0.1</text></g>
<g><text class="r" font-size="29.70" transform="translate(958.91,243.87) scale(0.9750,1.0000)">0.2</text></g>
<g><text class="r" font-size="29.70" transform="translate(958.91,154.79) scale(0.9750,1.0000)">0.3</text></g>
<g><text class="r" font-size="29.70" transform="translate(958.91,65.70) scale(0.9750,1.0000)">0.4</text></g>
<g><text class="r" font-size="29.70" transform="translate(1992.31,778.91) scale(1.2744,0.8500)">−</text><text class="r" font-size="29.70" transform="translate(2013.81,778.40) scale(0.9750,1.0000)">0.9</text></g>
<g><text class="r" font-size="29.70" transform="translate(1992.31,699.72) scale(1.2744,0.8500)">−</text><text class="r" font-size="29.70" transform="translate(2013.81,699.21) scale(0.9750,1.0000)">0.8</text></g>
<g><text class="r" font-size="29.70" transform="translate(1992.31,620.53) scale(1.2744,0.8500)">−</text><text class="r" font-size="29.70" transform="translate(2013.81,620.02) scale(0.9750,1.0000)">0.7</text></g>
<g><text class="r" font-size="29.70" transform="translate(1992.31,541.34) scale(1.2744,0.8500)">−</text><text class="r" font-size="29.70" transform="translate(2013.81,540.83) scale(0.9750,1.0000)">0.6</text></g>
<g><text class="r" font-size="29.70" transform="translate(1992.31,462.15) scale(1.2744,0.8500)">−</text><text class="r" font-size="29.70" transform="translate(2013.81,461.64) scale(0.9750,1.0000)">0.5</text></g>
<g><text class="r" font-size="29.70" transform="translate(1992.31,382.96) scale(1.2744,0.8500)">−</text><text class="r" font-size="29.70" transform="translate(2013.81,382.46) scale(0.9750,1.0000)">0.4</text></g>
<g><text class="r" font-size="29.70" transform="translate(1992.31,303.77) scale(1.2744,0.8500)">−</text><text class="r" font-size="29.70" transform="translate(2013.81,303.27) scale(0.9750,1.0000)">0.3</text></g>
<g><text class="r" font-size="29.70" transform="translate(1992.31,224.58) scale(1.2744,0.8500)">−</text><text class="r" font-size="29.70" transform="translate(2013.81,224.08) scale(0.9750,1.0000)">0.2</text></g>
<g><text class="r" font-size="29.70" transform="translate(1992.31,145.40) scale(1.2744,0.8500)">−</text><text class="r" font-size="29.70" transform="translate(2013.81,144.89) scale(0.9750,1.0000)">0.1</text></g>
<g><text class="r" font-size="29.70" transform="translate(1992.91,65.70) scale(0.9750,1.0000)">0.0</text></g>
<g><text class="s" font-size="35.50" transform="translate(305.92,44.10) scale(0.9368,1.0000)">Zonal</text> <text class="s" font-size="35.50" transform="translate(402.80,44.10) scale(0.9359,1.0000)">wind</text> <text class="s" font-size="35.50" transform="translate(483.54,44.10) scale(0.8835,1.0000)">stress</text> <text class="s" font-size="35.50" transform="translate(578.19,44.10) scale(0.9323,1.0000)">difference</text></g>
<g><text class="s" font-size="35.50" transform="translate(1390.03,44.10) scale(0.9776,1.0000)">Wind</text> <text class="s" font-size="35.50" transform="translate(1482.80,44.10) scale(0.9214,1.0000)">work</text> <text class="s" font-size="35.50" transform="translate(1563.64,44.10) scale(0.9326,1.0000)">difference</text></g>
<g><text class="s" font-size="35.50" transform="translate(392.37,852.70) scale(0.9671,1.0000)">x-direction</text> <text class="s" font-size="40.00" transform="translate(563.91,853.67) scale(0.8762,1.0335)">(</text><text class="s" font-size="35.50" transform="translate(577.59,852.70) scale(0.9648,1.0000)">km</text><text class="s" font-size="40.00" transform="translate(625.32,853.67) scale(0.9333,1.0335)">)</text></g>
<g><text class="s" font-size="35.50" transform="translate(45.20,535.09) rotate(-90) scale(0.9650,1.0000)">y-direction</text> <text class="s" font-size="40.00" transform="translate(46.63,363.89) rotate(-90) scale(0.8762,1.0322)">(</text><text class="s" font-size="35.50" transform="translate(45.20,350.21) rotate(-90) scale(0.9648,1.0000)">km</text><text class="s" font-size="40.00" transform="translate(46.63,302.46) rotate(-90) scale(0.8762,1.0322)">)</text></g>
<g><text class="s" font-size="35.50" transform="translate(1426.17,852.70) scale(0.9671,1.0000)">x-direction</text> <text class="s" font-size="40.00" transform="translate(1597.71,853.67) scale(0.8762,1.0335)">(</text><text class="s" font-size="35.50" transform="translate(1611.39,852.70) scale(0.9648,1.0000)">km</text><text class="s" font-size="40.00" transform="translate(1659.12,853.67) scale(0.9333,1.0335)">)</text></g>
<g><text class="s" font-size="35.50" transform="translate(1079.00,535.09) rotate(-90) scale(0.9650,1.0000)">y-direction</text> <text class="s" font-size="40.00" transform="translate(1080.43,363.89) rotate(-90) scale(0.8762,1.0322)">(</text><text class="s" font-size="35.50" transform="translate(1079.00,350.21) rotate(-90) scale(0.9648,1.0000)">km</text><text class="s" font-size="40.00" transform="translate(1080.43,302.46) rotate(-90) scale(0.8762,1.0322)">)</text></g>
<g><text class="s" font-size="40.00" transform="translate(175.86,95.13) scale(0.8952,1.0389)">(</text><text class="s" font-size="40.00" transform="translate(189.86,93.79) scale(0.6122,0.7717)" stroke="#000" stroke-width="0.5">a</text><text class="s" font-size="40.00" transform="translate(207.53,95.13) scale(0.8952,1.0389)">)</text></g>
<g><text class="s" font-size="40.00" transform="translate(1209.66,95.13) scale(0.8952,1.0389)">(</text><text class="s" font-size="40.00" transform="translate(1223.82,93.74) scale(0.7222,0.9116)" stroke="#000" stroke-width="0.5">b</text><text class="s" font-size="40.00" transform="translate(1241.93,95.13) scale(0.8952,1.0389)">)</text></g>
<g><text class="r" font-size="30.00" transform="translate(848.02,44.00) scale(0.9448,1.0000)">10</text><text class="r" font-size="21.30" transform="translate(876.91,34.53) scale(1.2116,0.8500)">−</text><text class="r" font-size="21.30" transform="translate(891.94,34.10) scale(0.9977,1.0000)">2</text> <text class="s" font-size="28.80" transform="translate(912.77,44.00) scale(0.9405,1.0000)">N</text> <text class="s" font-size="28.80" transform="translate(941.93,44.00) scale(0.9127,1.0000)">m</text><text class="r" font-size="21.30" transform="translate(964.62,34.53) scale(1.2015,0.8500)">−</text><text class="r" font-size="21.30" transform="translate(978.97,34.10) scale(1.0798,1.0000)">2</text></g>
<g><text class="r" font-size="30.00" transform="translate(1878.02,44.00) scale(0.9448,1.0000)">10</text><text class="r" font-size="21.30" transform="translate(1907.36,34.53) scale(1.1611,0.8500)">−</text><text class="r" font-size="21.30" transform="translate(1921.86,34.10) scale(1.0243,1.0000)">3</text> <text class="s" font-size="28.80" transform="translate(1943.46,44.00) scale(0.9507,1.0000)">W</text> <text class="s" font-size="28.80" transform="translate(1979.14,44.00) scale(0.9077,1.0000)">m</text><text class="r" font-size="21.30" transform="translate(2001.93,34.53) scale(1.1914,0.8500)">−</text><text class="r" font-size="21.30" transform="translate(2016.39,34.10) scale(1.0563,1.0000)">2</text></g>
</svg></body></html>
